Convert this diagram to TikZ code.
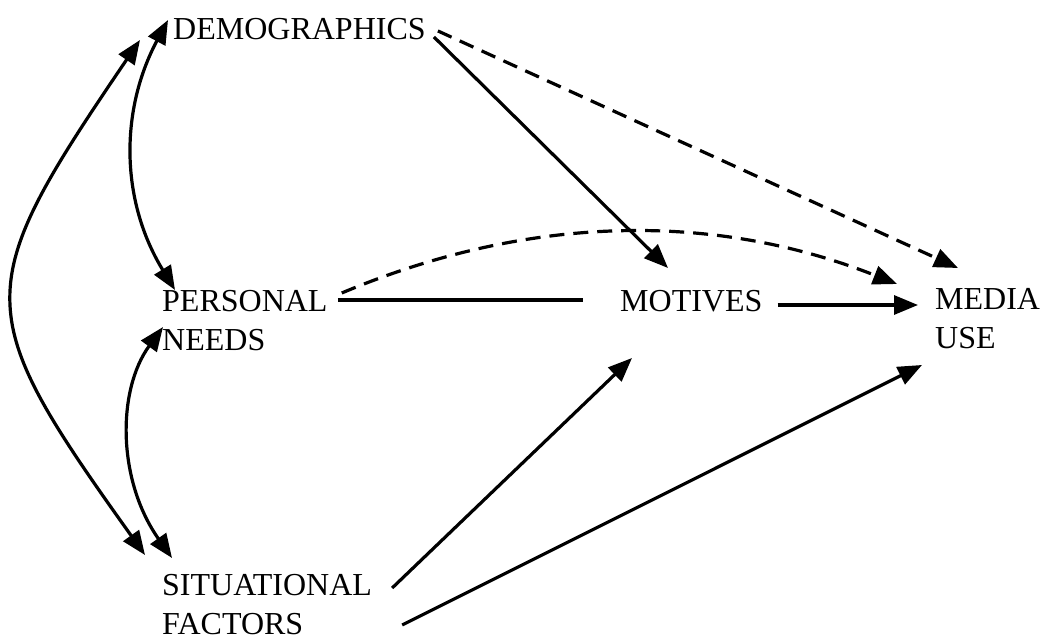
\documentclass[tikz,border=0pt]{standalone}
\usepackage{fontspec}
\setmainfont{Liberation Serif}
\usetikzlibrary{arrows.meta,calc}
\begin{document}
\begin{tikzpicture}[x=1pt,y=-1pt,
  lbl/.style={inner sep=0pt,anchor=north west,align=left,font=\fontsize{32}{39}\selectfont},
  conn/.style={line width=3.2pt},
  arr/.style={conn,-{Triangle[length=24pt,width=19pt]}},
  darr/.style={conn,{Triangle[length=24pt,width=19pt]}-{Triangle[length=24pt,width=19pt]}},
  dsh/.style={dash pattern=on 15pt off 9pt}]
\useasboundingbox (0,0) rectangle (1043,644);
\node[lbl] (dem) at (173,18) {DEMOGRAPHICS};
\node[lbl] (per) at (162,290) {PERSONAL\\NEEDS};
\node[lbl] (mot) at (620,290) {MOTIVES};
\node[lbl] (med) at (935,288) {MEDIA\\USE};
\node[lbl] (sit) at (162,574) {SITUATIONAL\\FACTORS};
% right-hand connectors
\draw[arr] ($(dem.east)+(8,8)$) -- ($(mot.north west)+(48,-22)$);
\draw[arr,dsh] ($(dem.east)+(12,2)$) -- ($(med.north west)+(23,-20)$);
\draw[arr,dsh] ($(per.north east)+(14,3)$) .. controls (527,215) and (712,211) .. ($(med.north west)+(-38,-4)$);
\draw[conn] ($(per.north east)+(10,10)$) -- ($(mot.north west)+(-37,10)$);
\draw[arr] ($(mot.north east)+(15,15)$) -- ($(med.north west)+(-17,17)$);
\draw[arr] ($(sit.north east)+(20,14)$) -- ($(mot.north west)+(12,68)$);
\draw[arr] ($(sit.north east)+(30,51)$) -- ($(med.north west)+(-13,77)$);
% left-hand double arrows
\draw[darr] ($(dem.north west)+(-33,22)$) .. controls (-30,290) and (-30,310) .. ($(sit.north west)+(-17,-19)$);
\draw[darr] ($(dem.north west)+(-5,2)$) .. controls (120,110) and (120,200) .. ($(per.north west)+(13,0)$);
\draw[darr] ($(per.north west)+(1,37)$) .. controls (117,390) and (117,480) .. ($(sit.north west)+(10,-16)$);
\end{tikzpicture}
\end{document}
